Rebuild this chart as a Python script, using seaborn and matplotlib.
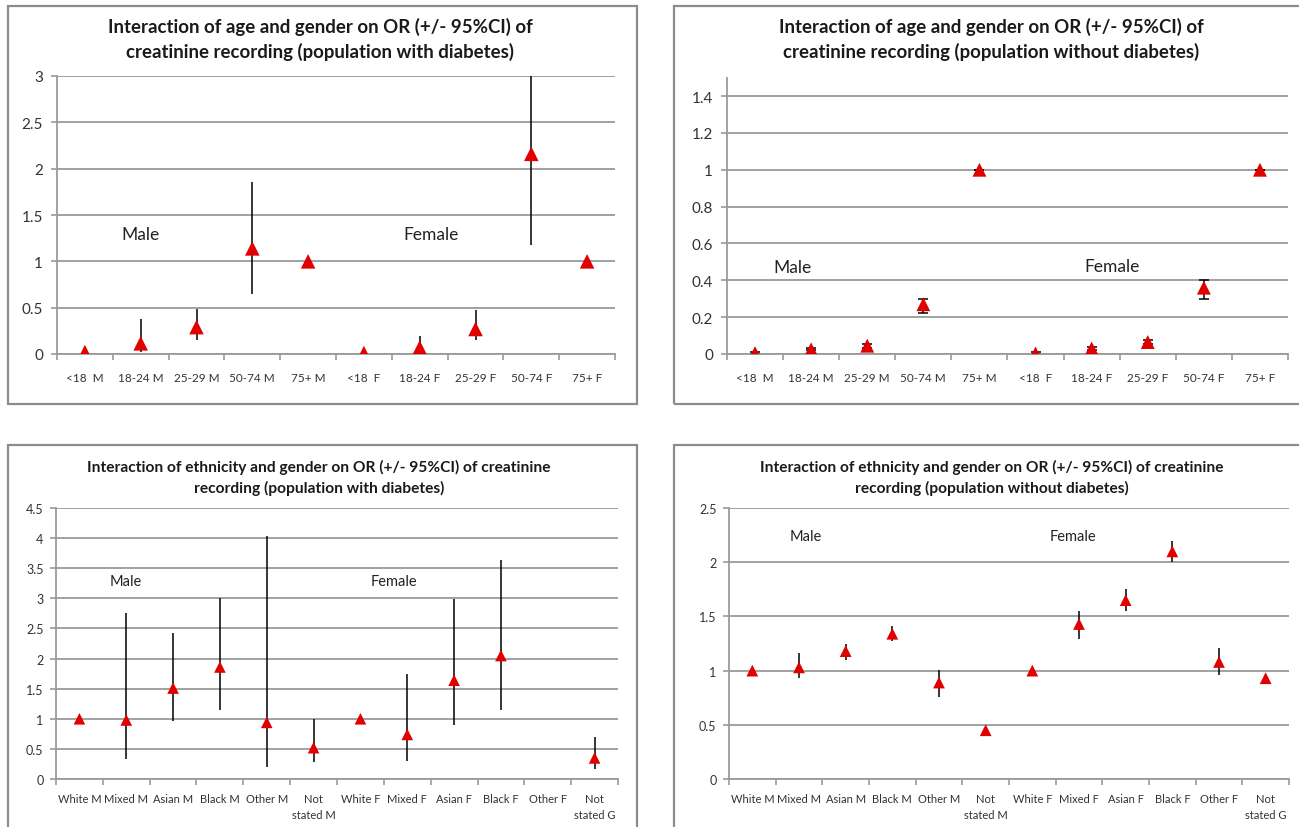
import numpy as np
import pandas as pd
import seaborn as sns
import matplotlib.pyplot as plt
from matplotlib.patches import Rectangle

# ---- data ----
age_labels = ['<18  M', '18-24 M', '25-29 M', '50-74 M', '75+ M',
              '<18  F', '18-24 F', '25-29 F', '50-74 F', '75+ F']

# age x gender, population with diabetes
age_dm_or = [0.02, 0.115, 0.29, 1.14, 1.00, 0.01, 0.07, 0.27, 2.16, 1.00]
age_dm_lo = [0.02, 0.02, 0.155, 0.65, 1.00, 0.01, 0.02, 0.155, 1.18, 1.00]
age_dm_hi = [0.02, 0.38, 0.49, 1.86, 1.00, 0.01, 0.19, 0.475, 3.00, 1.00]

# age x gender, population without diabetes
age_nodm_or = [0.005, 0.025, 0.045, 0.27, 1.00, 0.003, 0.03, 0.065, 0.36, 1.00]
age_nodm_lo = [0.0, 0.02, 0.035, 0.22, 1.00, 0.0, 0.02, 0.055, 0.30, 1.00]
age_nodm_hi = [0.012, 0.035, 0.055, 0.30, 1.00, 0.01, 0.04, 0.075, 0.40, 1.00]

eth_labels = ['White M', 'Mixed M', 'Asian M', 'Black M', 'Other M', 'Not\nstated M',
              'White F', 'Mixed F', 'Asian F', 'Black F', 'Other F', 'Not\nstated G']

# ethnicity x gender, population with diabetes (Other F missing)
eth_dm_or = [1.00, 0.98, 1.51, 1.86, 0.94, 0.52, 1.00, 0.74, 1.64, 2.05, np.nan, 0.35]
eth_dm_lo = [1.00, 0.34, 0.97, 1.14, 0.20, 0.29, 1.00, 0.30, 0.89, 1.15, np.nan, 0.16]
eth_dm_hi = [1.00, 2.75, 2.42, 3.01, 4.03, 0.99, 1.00, 1.75, 2.99, 3.63, np.nan, 0.69]

# ethnicity x gender, population without diabetes
eth_nodm_or = [1.00, 1.03, 1.18, 1.34, 0.89, 0.45, 1.00, 1.43, 1.65, 2.10, 1.08, 0.93]
eth_nodm_lo = [1.00, 0.93, 1.10, 1.27, 0.76, 0.43, 1.00, 1.29, 1.55, 2.00, 0.96, 0.91]
eth_nodm_hi = [1.00, 1.16, 1.25, 1.41, 1.01, 0.47, 1.00, 1.55, 1.75, 2.20, 1.21, 0.96]

sns.set_style('white')
plt.rcParams['font.family'] = ['Lato', 'DejaVu Sans']

W, H = 1299, 828
fig = plt.figure(figsize=(W / 100, H / 100), dpi=100)
RED = '#e00000'
GRID = '#9a9a9a'


def px_rect(left, top, right, bottom):
    return [left / W, 1 - bottom / H, (right - left) / W, (bottom - top) / H]


def panel(rect, labels, orv, lo, hi, ymax, ystep, ms, fs_y, fs_x, xpad, ypad, caps,
          male_xy, female_xy, txt_fs):
    ax = fig.add_axes(rect)
    n = len(labels)
    pos = np.arange(n)
    df = pd.DataFrame({'pos': pos, 'OR': orv, 'lo': lo, 'hi': hi})

    yerr = [df['OR'] - df['lo'], df['hi'] - df['OR']]
    ax.errorbar(df['pos'], df['OR'], yerr=yerr, fmt='none', ecolor='black',
                elinewidth=1.1, capsize=caps, capthick=1.1, zorder=2)
    sns.scatterplot(data=df, x='pos', y='OR', marker='^', s=ms, color=RED,
                    edgecolor='none', linewidth=0, ax=ax, zorder=3, legend=False)

    ax.set_xlim(-0.5, n - 0.5)
    ax.set_ylim(0, ymax)
    ax.set_yticks(np.arange(0, ymax + 1e-9, ystep))
    ax.set_yticklabels([f'{v:g}' for v in np.arange(0, ymax + 1e-9, ystep)])
    ax.set_xticks(pos)
    ax.set_xticklabels(labels)
    ax.set_xticks(np.arange(-0.5, n), minor=True)
    ax.set_xlabel('')
    ax.set_ylabel('')

    ax.tick_params(axis='x', which='major', bottom=False, length=0, pad=xpad,
                   labelsize=fs_x, labelcolor='#333333')
    ax.tick_params(axis='x', which='minor', bottom=True, length=4, width=1.2,
                   color=GRID, direction='out')
    ax.tick_params(axis='y', left=True, length=4, width=1.2, color=GRID,
                   labelsize=fs_y, pad=ypad, labelcolor='#333333')
    for lbl in ax.get_xticklabels():
        lbl.set_linespacing(1.55)

    ax.grid(axis='y', color=GRID, lw=1.3)
    ax.grid(axis='x', visible=False)
    ax.set_axisbelow(True)
    for side in ['top', 'right']:
        ax.spines[side].set_visible(False)
    for side in ['left', 'bottom']:
        ax.spines[side].set_color(GRID)
        ax.spines[side].set_linewidth(1.3)

    ax.text(male_xy[0], male_xy[1], 'Male', ha='center', va='center',
            fontsize=txt_fs, color='#222222')
    ax.text(female_xy[0], female_xy[1], 'Female', ha='center', va='center',
            fontsize=txt_fs, color='#222222')
    return ax


def title(cx, y1, y2, line1, line2, fs):
    fig.text(cx / W, 1 - y1 / H, line1, ha='center', va='center',
             fontsize=fs, fontweight='bold', color='#1a1a1a')
    fig.text(cx / W, 1 - y2 / H, line2, ha='center', va='center',
             fontsize=fs, fontweight='bold', color='#1a1a1a')


def border(left, top, right, bottom):
    fig.add_artist(Rectangle((left / W, 1 - bottom / H), (right - left) / W,
                             (bottom - top) / H, transform=fig.transFigure,
                             fill=False, ec='#8c8c8c', lw=1.6))


border(8, 7, 637, 405)
border(674, 7, 1320, 405)
border(8, 446, 637, 850)
border(674, 446, 1320, 850)

# top left
panel(px_rect(57, 77, 615, 355), age_labels, age_dm_or, age_dm_lo, age_dm_hi,
      3, 0.5, 110, 11, 8.5, 13, 6, 0, (1.0, 1.3), (6.2, 1.3), 12.5)
title(320, 27, 52, 'Interaction of age and gender on OR (+/- 95%CI) of',
      'creatinine recording (population with diabetes)', 13.4)

# top right
panel(px_rect(727, 78.6, 1288, 355), age_labels, age_nodm_or, age_nodm_lo, age_nodm_hi,
      1.5, 0.2, 100, 11, 8.5, 13, 6, 3.5, (0.66, 0.47), (6.36, 0.48), 12.5)
title(991, 27, 52, 'Interaction of age and gender on OR (+/- 95%CI) of',
      'creatinine recording (population without diabetes)', 13.4)

# bottom left
panel(px_rect(56, 509, 618, 780), eth_labels, eth_dm_or, eth_dm_lo, eth_dm_hi,
      4.5, 0.5, 70, 9, 8, 10, 5, 0, (1.0, 3.29), (6.72, 3.29), 10.5)
title(319, 467, 488, 'Interaction of ethnicity and gender on OR (+/- 95%CI) of creatinine',
      'recording (population with diabetes)', 11.2)

# bottom right
panel(px_rect(729, 509, 1289, 780), eth_labels, eth_nodm_or, eth_nodm_lo, eth_nodm_hi,
      2.5, 0.5, 72, 9, 8, 10, 5, 0, (1.14, 2.24), (6.87, 2.24), 10.5)
title(992, 467, 488, 'Interaction of ethnicity and gender on OR (+/- 95%CI) of creatinine',
      'recording (population without diabetes)', 11.2)

fig.savefig('out.png', dpi=100)
